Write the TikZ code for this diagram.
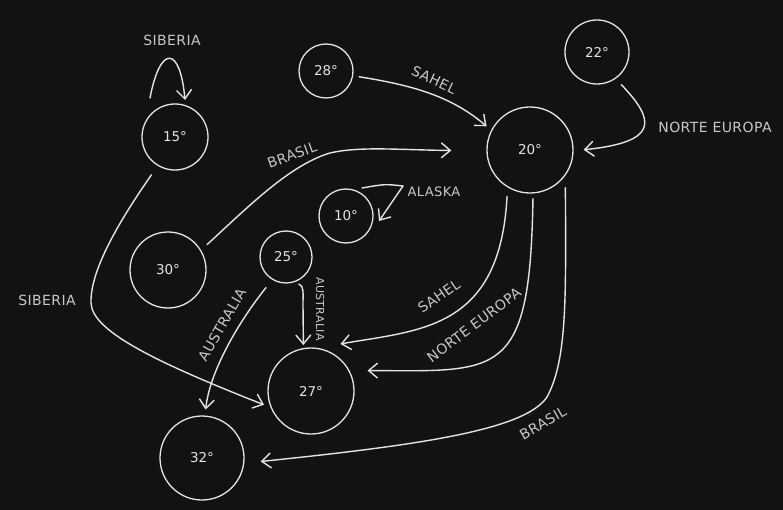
\documentclass[tikz,border=0pt]{standalone}
\usepackage{fontspec}
\usetikzlibrary{arrows.meta}
\newfontfamily\djfam{DejaVu Sans}
\newfontfamily\djlbl[LetterSpace=3]{DejaVu Sans}
\newcommand\lblfont{\djlbl\fontsize{14}{16}\selectfont}
\newcommand\numfont{\djfam\fontsize{13.5}{15}\selectfont}
\definecolor{bgc}{HTML}{121212}
\definecolor{fgc}{HTML}{E4E4E4}
\definecolor{lblc}{HTML}{C8C8C8}
\tikzset{
  circ/.style={circle, draw=fgc, line width=1.3pt, inner sep=0pt, text=fgc, font=\numfont},
  conn/.style={draw=fgc, line width=1.4pt, line cap=round, line join=round,
    -{Straight Barb[length=9pt,width=15pt,line width=1.4pt]}},
  lbl/.style={text=lblc, font=\lblfont, inner sep=0pt},
  smalllbl/.style={lbl, font=\djlbl\fontsize{11}{13}\selectfont},
  midlbl/.style={lbl, font=\djlbl\fontsize{13}{15}\selectfont},
}
\begin{document}
\begin{tikzpicture}[x=1pt,y=-1pt]
\fill[bgc] (0,0) rectangle (783,510);
\useasboundingbox (0,0) rectangle (783,510);

% nodes
\node[circ, minimum size=66pt] (n15) at (175,137) {15°};
\node[circ, minimum size=54pt] (n28) at (326,71) {28°};
\node[circ, minimum size=64pt] (n22) at (597,52) {22°};
\node[circ, minimum size=86pt] (n20) at (530,150) {20°};
\node[circ, minimum size=54pt] (n10) at (346,216) {10°};
\node[circ, minimum size=76pt] (n30) at (168,270) {30°};
\node[circ, minimum size=52pt] (n25) at (286,257) {25°};
\node[circ, minimum size=86pt] (n27) at (311,391) {27°};
\node[circ, minimum size=84pt] (n32) at (202,458) {32°};

% free ends of the self loops
\coordinate (l15a) at (150,98);
\coordinate (l15b) at (185,100);
\coordinate (l10a) at (362,188);
\coordinate (l10b) at (379,221);

% connectors
\draw[conn] (l15a) .. controls (160,45) and (180,45) .. (l15b);
\draw[conn, shorten <=6pt, shorten >=6pt] (n28.-10) .. controls (410,85) and (450,95) .. (n20.153);
\draw[conn, shorten <=8pt, shorten >=10pt] (n22.-55) .. controls (655,120) and (660,142) .. (n20.-1);
\draw[conn, shorten <=8pt, shorten >=35pt] (n30.31) .. controls (250,205) and (290,165) .. (330,153)
   .. controls (360,146) and (400,150) .. (n20.181);
\draw[conn] (l10a) .. controls (385,184) .. (403,186) -- (l10b);
\draw[conn, shorten <=11pt, shorten >=7pt] (n15.-121) .. controls (120,220) and (90,270) .. (91,303)
   .. controls (92,330) and (150,360) .. (n27.-158);
\draw[conn, shorten <=10pt, shorten >=6pt] (n25.-121) .. controls (240,320) and (210,370) .. (n32.86);
\draw[conn, shorten <=5pt, shorten >=3pt] (n25.-72) .. controls (304,286) and (303,292) .. (303,305) -- (n27.100);
\draw[conn, shorten <=9pt, shorten >=23pt] (n20.-121) .. controls (500,330) and (420,330) .. (n27.81);
\draw[conn, shorten <=5pt, shorten >=18pt] (n20.-86) .. controls (530,380) and (500,371) .. (n27.28);
\draw[conn, shorten <=12pt, shorten >=16.5pt] (n20.-36) .. controls (566,300) and (567,360) .. (547,397)
   .. controls (525,430) and (420,445) .. (n32.-7);

% labels
\node[lbl] (t1) at (172,40) {SIBERIA};
\node[lbl, rotate=-25] (t2) at (434,80) {SAHEL};
\node[lbl] (t3) at (715,127) {NORTE EUROPA};
\node[lbl, rotate=20] (t4) at (292,155) {BRASIL};
\node[midlbl] (t5) at (434,192) {ALASKA};
\node[lbl] (t6) at (47,300) {SIBERIA};
\node[lbl, rotate=60] (t7) at (222,325) {AUSTRALIA};
\node[smalllbl, rotate=-90] (t8) at (320,309) {AUSTRALIA};
\node[lbl, rotate=35] (t9) at (439,296) {SAHEL};
\node[lbl, rotate=37] (t10) at (474,325) {NORTE EUROPA};
\node[lbl, rotate=30] (t11) at (543,423) {BRASIL};
\end{tikzpicture}
\end{document}
